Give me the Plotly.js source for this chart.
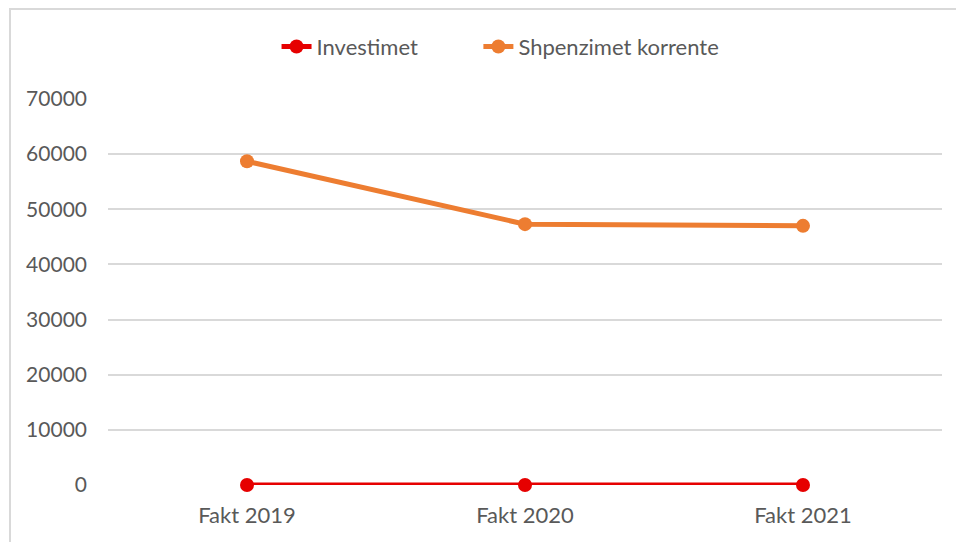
<!DOCTYPE html>
<html>
<head>
<meta charset="utf-8">
<script src="https://cdn.plot.ly/plotly-3.0.1.min.js"></script>
<style>
  html, body { margin: 0; padding: 0; background: #fff; overflow: hidden; }
  #chart {
    position: absolute; left: 9px; top: 8px;
    width: 945px; height: 532px;
    border-left: 2px solid #d9d9d9; border-top: 2px solid #d9d9d9;
  }
</style>
</head>
<body>
<div id="chart"></div>
<script>
// --- Data ---
const categories = ['Fakt 2019', 'Fakt 2020', 'Fakt 2021'];
const investimet = [0, 0, 0];
const shpenzimet = [58700, 47300, 47000];
const yTicks = [0, 10000, 20000, 30000, 40000, 50000, 60000, 70000];

const family = 'Lato, "Open Sans", sans-serif';
const grey = '#595959';

const traces = [
    {
        x: categories, y: investimet, name: 'Investimet',
        type: 'scatter', mode: 'lines+markers', cliponaxis: false,
        line: { color: '#e60000', width: 5 },
        marker: { color: '#e60000', size: 14 },
        legend: 'legend'
    },
    {
        x: categories, y: shpenzimet, name: 'Shpenzimet korrente',
        type: 'scatter', mode: 'lines+markers', cliponaxis: false,
        line: { color: '#ed7d31', width: 5 },
        marker: { color: '#ed7d31', size: 14 },
        legend: 'legend2'
    }
];

// two legends so the gap between entries can match the original
const legendBase = {
    orientation: 'h', xref: 'container', yref: 'container',
    xanchor: 'left', y: 0.931, yanchor: 'middle',
    font: { family: family, size: 22, color: grey }
};

const layout = {
    width: 945, height: 532,
    margin: { l: 97, r: 14, t: 89, b: 57, autoexpand: false },
    paper_bgcolor: '#fff', plot_bgcolor: '#fff',
    font: { family: family, size: 21, color: grey },
    showlegend: true,
    legend: { ...legendBase, x: 0.281 },
    legend2: { ...legendBase, x: 0.4946 },
    xaxis: {
        type: 'category', range: [-0.5, 2.5],
        showgrid: false, zeroline: false, showline: false,
        ticks: '', ticklabelstandoff: 15,
        tickfont: { family: family, size: 22, color: grey }
    },
    yaxis: {
        range: [0, 70000], tickvals: yTicks, ticktext: yTicks.map(String),
        showgrid: true, gridcolor: '#d9d9d9', gridwidth: 2,
        zeroline: false, showline: false, ticks: '',
        ticklabelstandoff: 20,
        tickfont: { family: family, size: 21, color: grey }
    }
};

Plotly.newPlot('chart', traces, layout, { displayModeBar: false, staticPlot: true });
</script>
</body>
</html>
